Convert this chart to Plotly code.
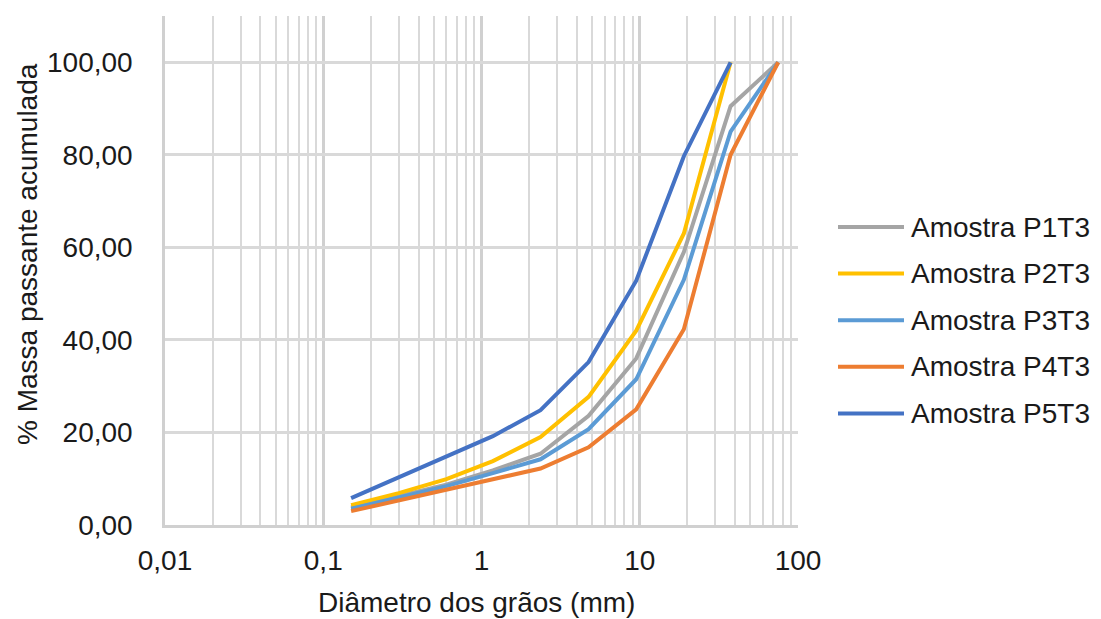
import plotly.graph_objects as go

# ---- data ----
diam_full = [0.15, 0.3, 0.6, 1.18, 2.36, 4.75, 9.5, 19, 37.5, 75]
diam_short = [0.15, 0.3, 0.6, 1.18, 2.36, 4.75, 9.5, 19, 37.5]
p1t3 = [3.8, 6.2, 8.7, 11.8, 15.4, 23.6, 36.0, 59.0, 90.5, 100.0]
p2t3 = [4.3, 6.9, 9.9, 13.8, 19.0, 27.7, 42.0, 63.0, 100.0]
p3t3 = [3.5, 6.0, 8.4, 11.2, 14.2, 20.7, 31.5, 53.0, 85.0, 100.0]
p4t3 = [3.0, 5.3, 7.6, 9.8, 12.2, 16.8, 25.0, 42.3, 80.0, 100.0]
p5t3 = [5.8, 10.3, 14.8, 19.2, 24.8, 35.2, 52.8, 79.7, 100.0]

series_names = ["Amostra P1T3", "Amostra P2T3", "Amostra P3T3", "Amostra P4T3", "Amostra P5T3"]
series_x = [diam_full, diam_short, diam_full, diam_full, diam_short]
series_y = [p1t3, p2t3, p3t3, p4t3, p5t3]
colors = ["#A5A5A5", "#FFC000", "#5B9BD5", "#ED7D31", "#4472C4"]

x_ticks = [0.01, 0.1, 1, 10, 100]
x_ticktext = ["0,01", "0,1", "1", "10", "100"]
x_minor = [m * 10 ** e for e in range(-2, 2) for m in range(2, 10)]
y_ticks = [0, 20, 40, 60, 80, 100]

FONT = "Liberation Sans, Arial, sans-serif"
TXT = "#1a1a1a"
GRID = "#D9D9D9"

W, H = 1101, 619
L, R, T, B = 165, 798, 16, 525


def px_x(p):
    return (p - L) / (R - L)


def px_y(p):
    return (B - p) / (B - T)


fig = go.Figure()
for name, xs, ys, c in zip(series_names, series_x, series_y, colors):
    fig.add_trace(go.Scatter(x=xs, y=ys, mode="lines", name=name,
                             line=dict(color=c, width=4), showlegend=False))

# custom legend (long line samples like the original)
leg_y0 = 227
leg_dy = 46.6
for i, (name, c) in enumerate(zip(series_names, colors)):
    yy = px_y(leg_y0 + i * leg_dy)
    fig.add_shape(type="line", xref="paper", yref="paper",
                  x0=px_x(838), x1=px_x(904), y0=yy, y1=yy,
                  line=dict(color=c, width=4))
    fig.add_annotation(xref="paper", yref="paper", x=px_x(909), y=yy,
                       text=name, showarrow=False, xanchor="left", yanchor="middle",
                       font=dict(family=FONT, size=28, color=TXT))

fig.add_annotation(xref="paper", yref="paper", x=px_x(476), y=px_y(602),
                   text="Diâmetro dos grãos (mm)", showarrow=False,
                   xanchor="center", yanchor="middle",
                   font=dict(family=FONT, size=28, color=TXT))
fig.add_annotation(xref="paper", yref="paper", x=px_x(28), y=px_y(254),
                   text="% Massa passante acumulada", showarrow=False, textangle=-90,
                   xanchor="center", yanchor="middle",
                   font=dict(family=FONT, size=28, color=TXT))

fig.update_layout(
    width=W, height=H,
    margin=dict(l=L, r=W - R, t=T, b=H - B),
    paper_bgcolor="white", plot_bgcolor="white",
    separators=",.",
    showlegend=False,
    font=dict(family=FONT, size=28, color=TXT),
)
fig.update_xaxes(type="log", range=[-2, 2],
                 tickmode="array", tickvals=x_ticks, ticktext=x_ticktext,
                 showgrid=True, gridcolor="#D0D0D0", gridwidth=2.5,
                 minor=dict(tickmode="array", tickvals=x_minor, showgrid=True,
                            gridcolor=GRID, gridwidth=2, ticks=""),
                 showline=True, linecolor="#D0D0D0", linewidth=2.5,
                 ticks="", ticklabelstandoff=9, zeroline=False,
                 tickfont=dict(family=FONT, size=28, color=TXT))
fig.update_yaxes(range=[0, 110], tickmode="array", tickvals=y_ticks, tickformat=".2f",
                 showgrid=True, gridcolor=GRID, gridwidth=2.5,
                 showline=True, linecolor="#D0D0D0", linewidth=2.5,
                 ticks="", ticklabelstandoff=24, zeroline=False,
                 tickfont=dict(family=FONT, size=28, color=TXT))

fig.write_html("out.html", config={"displayModeBar": False},
               post_script="document.body.style.margin='0px';document.body.style.overflow='hidden';")
